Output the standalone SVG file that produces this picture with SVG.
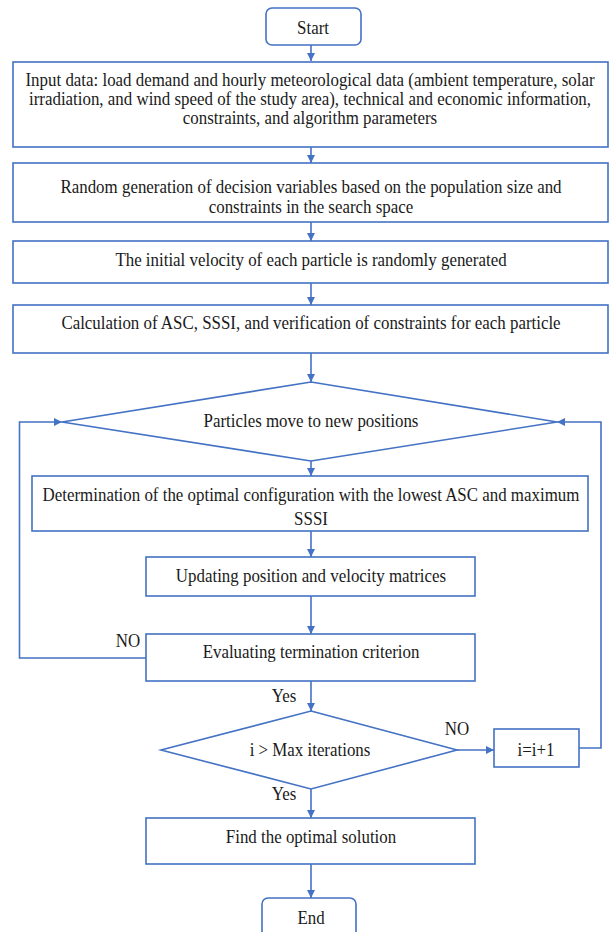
<svg xmlns="http://www.w3.org/2000/svg" width="610" height="932" viewBox="0 0 610 932">
<style>
.box{fill:#fff;stroke:#4472C4;stroke-width:1.6}
.t{font-family:"Liberation Serif","Times New Roman",serif;font-size:19px;fill:#1a1a1a;text-anchor:middle;transform-box:fill-box;transform-origin:center;transform:scaleX(0.89)}
.c{fill:none;stroke:#4472C4;stroke-width:1.6}
</style>
<defs>
<marker id="ah" markerUnits="userSpaceOnUse" viewBox="0 0 10 10" markerWidth="8" markerHeight="8" refX="10" refY="5" orient="auto">
<path d="M0,0 L10,5 L0,10 z" fill="#4472C4"/>
</marker>
</defs>
<rect width="610" height="932" fill="#fff"/>
<g id="connectors">
<path class="c" d="M311,45 V61" marker-end="url(#ah)"/>
<path class="c" d="M311,147 V163" marker-end="url(#ah)"/>
<path class="c" d="M311,222 V241" marker-end="url(#ah)"/>
<path class="c" d="M311,283 V305" marker-end="url(#ah)"/>
<path class="c" d="M311,353 V382" marker-end="url(#ah)"/>
<path class="c" d="M311,461 V476" marker-end="url(#ah)"/>
<path class="c" d="M311,531 V557" marker-end="url(#ah)"/>
<path class="c" d="M311,596 V634" marker-end="url(#ah)"/>
<path class="c" d="M311,681 V711" marker-end="url(#ah)"/>
<path class="c" d="M311,789 V818" marker-end="url(#ah)"/>
<path class="c" d="M311,864 V898" marker-end="url(#ah)"/>
<path class="c" d="M457,750 H494" marker-end="url(#ah)"/>
<path class="c" d="M579,748 H601 V422 H557" marker-end="url(#ah)"/>
<path class="c" d="M146,658 H19.5 V422 H62" marker-end="url(#ah)"/>
<text class="t" x="284" y="702">Yes</text>
<text class="t" x="284" y="800">Yes</text>
<text class="t" x="457" y="735">NO</text>
<text class="t" x="128" y="647">NO</text>
</g>
<g id="start">
<rect class="box" x="266" y="8" width="95" height="37" rx="6"/>
<text class="t" x="313" y="34">Start</text>
</g>
<g id="input">
<rect class="box" x="13" y="62" width="595" height="85"/>
<text class="t" x="310" y="86">Input data: load demand and hourly meteorological data (ambient temperature, solar</text>
<text class="t" x="310" y="105">irradiation, and wind speed of the study area), technical and economic information,</text>
<text class="t" x="310" y="124">constraints, and algorithm parameters</text>
</g>
<g id="random">
<rect class="box" x="13" y="163" width="595" height="59"/>
<text class="t" x="311" y="193">Random generation of decision variables based on the population size and</text>
<text class="t" x="311" y="213">constraints in the search space</text>
</g>
<g id="velocity">
<rect class="box" x="13" y="241" width="595" height="42"/>
<text class="t" x="311" y="266">The initial velocity of each particle is randomly generated</text>
</g>
<g id="calc">
<rect class="box" x="13" y="305" width="595" height="48"/>
<text class="t" x="311" y="329">Calculation of ASC, SSSI, and verification of constraints for each particle</text>
</g>
<g id="move">
<polygon class="box" points="311,382 557,422 311,461 62,422"/>
<text class="t" x="311" y="427">Particles move to new positions</text>
</g>
<g id="determine">
<rect class="box" x="32" y="476" width="556" height="55"/>
<text class="t" x="311" y="501">Determination of the optimal configuration with the lowest ASC and maximum</text>
<text class="t" x="311" y="525">SSSI</text>
</g>
<g id="update">
<rect class="box" x="146" y="557" width="329" height="39"/>
<text class="t" x="311" y="582">Updating position and velocity matrices</text>
</g>
<g id="evaluate">
<rect class="box" x="146" y="634" width="329" height="47"/>
<text class="t" x="311" y="658">Evaluating termination criterion</text>
</g>
<g id="maxiter">
<polygon class="box" points="311,711 457,750 311,789 161,750"/>
<text class="t" x="310" y="756">i &gt; Max iterations</text>
</g>
<g id="increment">
<rect class="box" x="494" y="729" width="85" height="38"/>
<text class="t" x="536" y="756">i=i+1</text>
</g>
<g id="find">
<rect class="box" x="146" y="818" width="329" height="46"/>
<text class="t" x="311" y="843">Find the optimal solution</text>
</g>
<g id="end">
<rect class="box" x="262" y="898" width="94" height="40" rx="6"/>
<text class="t" x="311" y="924">End</text>
</g>
</svg>
